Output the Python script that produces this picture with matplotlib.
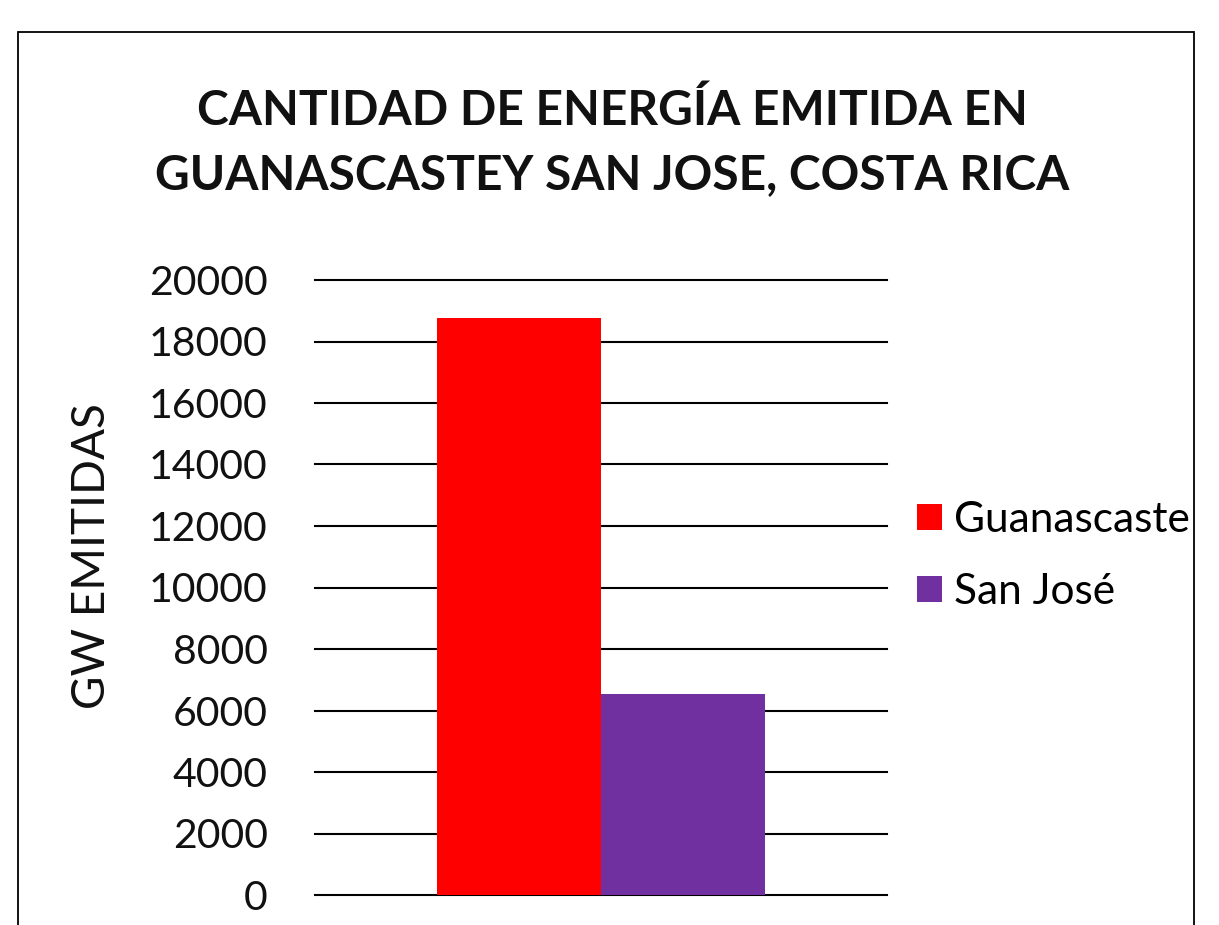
import matplotlib
matplotlib.use("Agg")
import matplotlib.pyplot as plt
from matplotlib.patches import Rectangle

# datos del grafico
series = ["Guanascaste", "San José"]
valores = [18770, 6540]
colores = ["#FF0000", "#7030A0"]
yticks = [0, 2000, 4000, 6000, 8000, 10000, 12000, 14000, 16000, 18000, 20000]
titulo = "CANTIDAD DE ENERGÍA EMITIDA EN\nGUANASCASTEY SAN JOSE, COSTA RICA"
ylabel = "GW EMITIDAS"

plt.rcParams['font.family'] = ['Lato', 'DejaVu Sans']

W, H = 1219, 925
fig = plt.figure(figsize=(W / 100, H / 100), dpi=100)
fig.patch.set_facecolor("white")

# ejes en pixeles de la imagen original
ax = fig.add_axes([315 / W, 1 - 895 / H, (887 - 315) / W, (895 - 280) / H])

ancho = 0.286
for i, (nombre, val, col) in enumerate(zip(series, valores, colores)):
    x = (i - (len(series) - 1) / 2) * ancho
    ax.bar(x, val, width=ancho, color=col, label=nombre, zorder=3)

ax.set_xlim(-0.5, 0.5)
ax.set_ylim(0, 20000)
ax.set_yticks(yticks)
ax.set_yticklabels([str(t) for t in yticks])
ax.set_xticks([])
ax.tick_params(axis="y", length=0, pad=34, labelsize=29.5, labelcolor="#111111")
for s in ax.spines.values():
    s.set_visible(False)

ax.yaxis.grid(True, color="black", linewidth=1.5, zorder=0)
ax.set_axisbelow(True)
for gl in ax.yaxis.get_gridlines():
    gl.set_clip_on(False)

fig.text(92 / W, 1 - 556 / H, ylabel, rotation=90, ha="center", va="center",
         fontsize=33, color="#111111")

fig.text(612 / W, 1 - 143 / H, titulo, ha="center", va="center",
         fontsize=34.5, fontweight="bold", color="#111111", linespacing=1.55)

fig.legend(loc="center left", bbox_to_anchor=(917 / W, 1 - 556 / H),
           frameon=False, fontsize=30.5, handlelength=0.58, handleheight=0.58,
           handletextpad=0.3, labelspacing=0.8, borderpad=0, borderaxespad=0)

# marco del grafico
marco = Rectangle((18 / W, -0.05), (1194 - 18) / W, 1 - 32 / H + 0.05,
                  transform=fig.transFigure, fill=False, edgecolor="black",
                  linewidth=1.3, clip_on=False)
fig.add_artist(marco)

plt.savefig("out.png", dpi=100)
plt.close()
